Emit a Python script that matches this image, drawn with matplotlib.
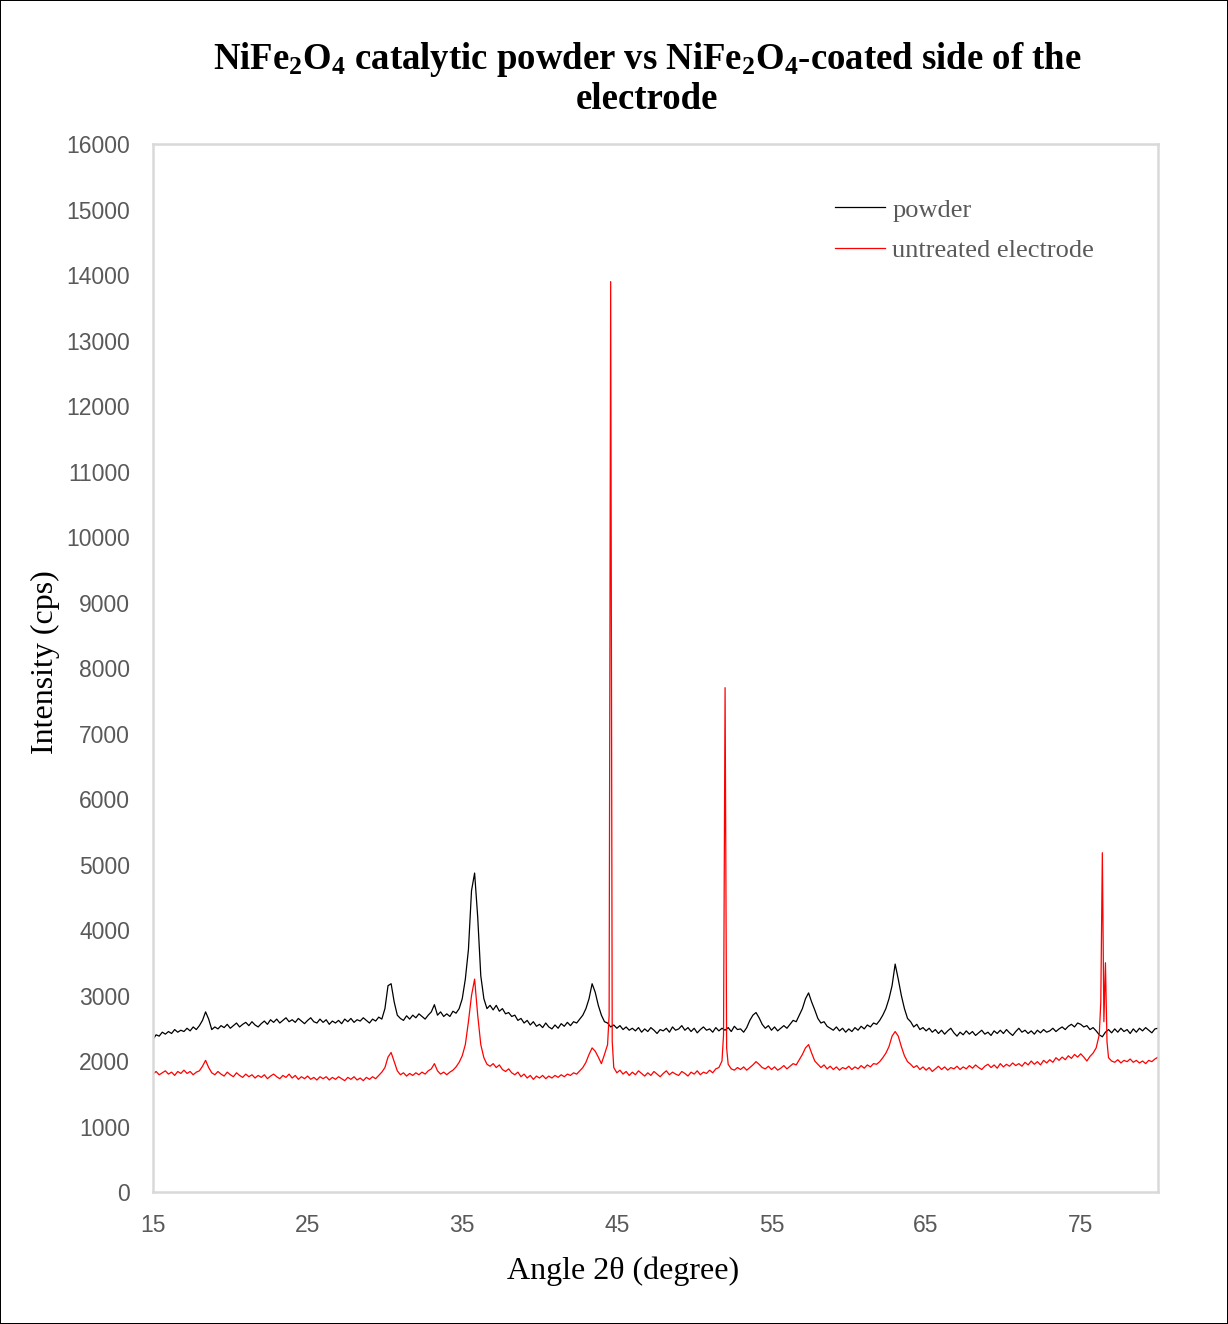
import numpy as np
import matplotlib
matplotlib.use("Agg")
import matplotlib.pyplot as plt

# Scan grid: 15-80 degrees 2-theta, 0.2 degree step
two_theta = np.round(np.arange(15.0, 80.0001, 0.2), 2)

# NiFe2O4 catalytic powder (cps), one row per degree
powder = [
    2330, 2400, 2380, 2440, 2410,   # 15
    2450, 2420, 2480, 2440, 2470,   # 16
    2450, 2500, 2460, 2520, 2480,   # 17
    2540, 2620, 2750, 2640, 2480,   # 18
    2520, 2490, 2540, 2510, 2560,   # 19
    2500, 2540, 2580, 2520, 2560,   # 20
    2590, 2540, 2600, 2550, 2520,   # 21
    2570, 2610, 2560, 2630, 2590,   # 22
    2640, 2580, 2620, 2660, 2600,   # 23
    2630, 2590, 2650, 2610, 2570,   # 24
    2620, 2660, 2600, 2580, 2640,   # 25
    2590, 2630, 2560, 2610, 2580,   # 26
    2620, 2570, 2640, 2600, 2650,   # 27
    2590, 2630, 2610, 2660, 2620,   # 28
    2580, 2640, 2610, 2670, 2640,   # 29
    2800, 3150, 3180, 2900, 2700,   # 30
    2650, 2620, 2690, 2640, 2700,   # 31
    2660, 2720, 2680, 2640, 2700,   # 32
    2750, 2860, 2700, 2750, 2680,   # 33
    2720, 2680, 2760, 2730, 2800,   # 34
    2950, 3250, 3700, 4600, 4870,   # 35
    4200, 3300, 2950, 2800, 2850,   # 36
    2780, 2850, 2760, 2800, 2720,   # 37
    2740, 2680, 2700, 2620, 2650,   # 38
    2580, 2620, 2550, 2600, 2530,   # 39
    2560, 2510, 2580, 2520, 2490,   # 40
    2550, 2500, 2570, 2530, 2590,   # 41
    2540, 2600, 2580, 2640, 2700,   # 42
    2800, 2950, 3180, 3050, 2850,   # 43
    2700, 2600, 2580, 2520, 2550,   # 44
    2500, 2540, 2480, 2520, 2470,   # 45
    2500, 2460, 2510, 2440, 2490,   # 46
    2450, 2510, 2470, 2420, 2480,   # 47
    2460, 2500, 2440, 2520, 2470,   # 48
    2490, 2540, 2470, 2510, 2450,   # 49
    2500, 2430, 2480, 2520, 2470,   # 50
    2490, 2440, 2510, 2460, 2500,   # 51
    2470, 2510, 2450, 2530, 2480,   # 52
    2490, 2440, 2510, 2620, 2700,   # 53
    2740, 2660, 2560, 2500, 2540,   # 54
    2470, 2520, 2460, 2500, 2540,   # 55
    2500, 2560, 2620, 2600, 2700,   # 56
    2800, 2950, 3040, 2900, 2780,   # 57
    2650, 2580, 2600, 2530, 2500,   # 58
    2470, 2520, 2460, 2500, 2440,   # 59
    2490, 2450, 2510, 2470, 2530,   # 60
    2490, 2550, 2520, 2580, 2560,   # 61
    2620, 2700, 2800, 2950, 3150,   # 62
    3480, 3250, 3000, 2800, 2650,   # 63
    2600, 2520, 2560, 2480, 2510,   # 64
    2460, 2500, 2440, 2480, 2420,   # 65
    2470, 2410, 2460, 2500, 2430,   # 66
    2380, 2440, 2400, 2460, 2410,   # 67
    2450, 2390, 2430, 2470, 2410,   # 68
    2440, 2390, 2460, 2420, 2470,   # 69
    2420, 2480, 2430, 2390, 2450,   # 70
    2500, 2440, 2470, 2420, 2460,   # 71
    2410, 2470, 2430, 2480, 2440,   # 72
    2460, 2500, 2450, 2490, 2520,   # 73
    2480, 2530, 2560, 2520, 2580,   # 74
    2560, 2520, 2540, 2480, 2510,   # 75
    2460, 2400, 2370, 2440, 2480,   # 76
    2430, 2490, 2440, 2500, 2450,   # 77
    2480, 2420, 2490, 2440, 2500,   # 78
    2460, 2510, 2470, 2430, 2490,   # 79
    2500,                           # 80
]

# NiFe2O4-coated side of the untreated electrode (cps)
electrode = [
    1800, 1840, 1790, 1820, 1850,   # 15
    1800, 1830, 1780, 1840, 1810,   # 16
    1860, 1810, 1840, 1790, 1830,   # 17
    1850, 1920, 2010, 1900, 1820,   # 18
    1790, 1840, 1800, 1770, 1830,   # 19
    1790, 1760, 1820, 1780, 1750,   # 20
    1800, 1760, 1790, 1740, 1780,   # 21
    1750, 1790, 1730, 1770, 1800,   # 22
    1760, 1730, 1780, 1750, 1800,   # 23
    1740, 1780, 1720, 1760, 1730,   # 24
    1770, 1720, 1750, 1710, 1760,   # 25
    1730, 1760, 1710, 1750, 1720,   # 26
    1760, 1730, 1700, 1750, 1720,   # 27
    1760, 1710, 1740, 1700, 1750,   # 28
    1720, 1760, 1730, 1780, 1830,   # 29
    1900, 2060, 2130, 1990, 1850,   # 30
    1790, 1820, 1770, 1810, 1780,   # 31
    1820, 1790, 1830, 1800, 1850,   # 32
    1880, 1960, 1850, 1800, 1830,   # 33
    1790, 1830, 1860, 1910, 1980,   # 34
    2080, 2250, 2600, 3000, 3250,   # 35
    2700, 2250, 2050, 1950, 1920,   # 36
    1960, 1900, 1940, 1870, 1840,   # 37
    1880, 1820, 1790, 1830, 1760,   # 38
    1800, 1740, 1780, 1720, 1770,   # 39
    1740, 1780, 1730, 1770, 1740,   # 40
    1780, 1750, 1790, 1760, 1800,   # 41
    1780, 1820, 1800, 1850, 1900,   # 42
    1980, 2100, 2200, 2150, 2060,   # 43
    1960, 2100, 2250, 13900, 1900,  # 44
    1820, 1860, 1800, 1840, 1780,   # 45
    1830, 1790, 1850, 1810, 1770,   # 46
    1820, 1780, 1840, 1800, 1760,   # 47
    1810, 1850, 1790, 1830, 1800,   # 48
    1780, 1840, 1810, 1770, 1830,   # 49
    1800, 1850, 1790, 1830, 1810,   # 50
    1860, 1820, 1880, 1900, 2000,   # 51
    7700, 1950, 1880, 1860, 1900,   # 52
    1870, 1910, 1860, 1900, 1940,   # 53
    1990, 1950, 1900, 1880, 1920,   # 54
    1870, 1910, 1860, 1890, 1930,   # 55
    1880, 1920, 1960, 1940, 2020,   # 56
    2100, 2200, 2250, 2120, 2000,   # 57
    1950, 1900, 1940, 1880, 1920,   # 58
    1870, 1910, 1860, 1900, 1880,   # 59
    1920, 1870, 1910, 1880, 1930,   # 60
    1890, 1940, 1910, 1960, 1950,   # 61
    1990, 2050, 2120, 2220, 2380,   # 62
    2450, 2380, 2220, 2080, 1990,   # 63
    1950, 1900, 1930, 1870, 1910,   # 64
    1860, 1900, 1840, 1880, 1920,   # 65
    1870, 1910, 1860, 1900, 1880,   # 66
    1920, 1870, 1910, 1880, 1930,   # 67
    1890, 1940, 1900, 1870, 1920,   # 68
    1950, 1900, 1940, 1890, 1960,   # 69
    1910, 1950, 1920, 1970, 1930,   # 70
    1960, 1920, 1980, 1940, 2000,   # 71
    1950, 1990, 1940, 2010, 1970,   # 72
    2020, 1980, 2050, 2010, 2060,   # 73
    2020, 2080, 2040, 2100, 2060,   # 74
    2110, 2060, 2000, 2070, 2120,   # 75
    2200, 2400, 5180, 3500, 2050,   # 76
    2000, 1980, 2020, 1970, 2010,   # 77
    1990, 2030, 1980, 2010, 1970,   # 78
    2000, 1960, 2010, 1990, 2030,   # 79
    2060,                           # 80
]

# Extra readings on the flanks of the sharp substrate reflections
electrode_extra_angles = [44.5, 44.7, 51.9, 52.1, 76.3, 76.5, 76.7]
electrode_extra_values = [2700, 2300, 2400, 2200, 2900, 2600, 2300]

series_labels = ["powder", "untreated electrode"]
x_ticks = [15, 25, 35, 45, 55, 65, 75]
y_ticks = list(range(0, 16001, 1000))

# merge the extra flank readings into the electrode scan
e_x = np.concatenate([two_theta, electrode_extra_angles])
e_y = np.concatenate([electrode, electrode_extra_values])
order = np.argsort(e_x, kind="stable")
e_x, e_y = e_x[order], e_y[order]

plt.rcParams["mathtext.fontset"] = "custom"
plt.rcParams["mathtext.bf"] = "Liberation Serif:bold"
plt.rcParams["mathtext.rm"] = "Liberation Serif:bold"
plt.rcParams["mathtext.default"] = "bf"

fig = plt.figure(figsize=(12.28, 13.24), dpi=100)
fig.patch.set_facecolor("white")
fig.patch.set_edgecolor("black")
fig.patch.set_linewidth(1.2)

ax = fig.add_axes([0.1246, 0.0997, 0.9430 - 0.1246, 0.8912 - 0.0997])
ax.plot(two_theta, powder, color="black", lw=0.9, label=series_labels[0])
ax.plot(e_x, e_y, color="#ff0000", lw=0.9, label=series_labels[1])

ax.set_xlim(15, 80)
ax.set_ylim(0, 16000)
ax.set_xticks(x_ticks)
ax.set_yticks(y_ticks)
ax.tick_params(length=0, labelsize=16.5, labelcolor="#595959")
ax.tick_params(axis="x", pad=15.5)
ax.tick_params(axis="y", pad=16.5)
for lab in ax.get_xticklabels() + ax.get_yticklabels():
    lab.set_fontfamily("Liberation Sans")
for sp in ax.spines.values():
    sp.set_color("#d9d9d9")
    sp.set_linewidth(1.8)

# axis titles placed in figure coordinates
fig.text(623 / 1228, 1 - 1271 / 1324, "Angle 2θ (degree)", fontsize=23,
         family="Liberation Serif", color="black", ha="center", va="center")
fig.text(45 / 1228, 1 - 662 / 1324, "Intensity (cps)", fontsize=23,
         family="Liberation Serif", color="black", ha="center", va="center",
         rotation=90)

fig.text(0.527, 0.955,
         r"NiFe$_2$O$_4$ catalytic powder vs NiFe$_2$O$_4$-coated side of the",
         ha="center", va="center", fontsize=26.5, family="Liberation Serif",
         weight="bold")
fig.text(0.527, 0.925, "electrode", ha="center", va="center", fontsize=26.5,
         family="Liberation Serif", weight="bold")

leg = ax.legend(loc="upper left", bbox_to_anchor=(0.655, 0.971), frameon=False,
                prop={"family": "Liberation Serif", "size": 19},
                handlelength=1.9, handletextpad=0.27, labelspacing=0.64)
for t in leg.get_texts():
    t.set_color("#595959")

fig.savefig("out.png", dpi=100, facecolor=fig.get_facecolor(),
            edgecolor=fig.get_edgecolor())
